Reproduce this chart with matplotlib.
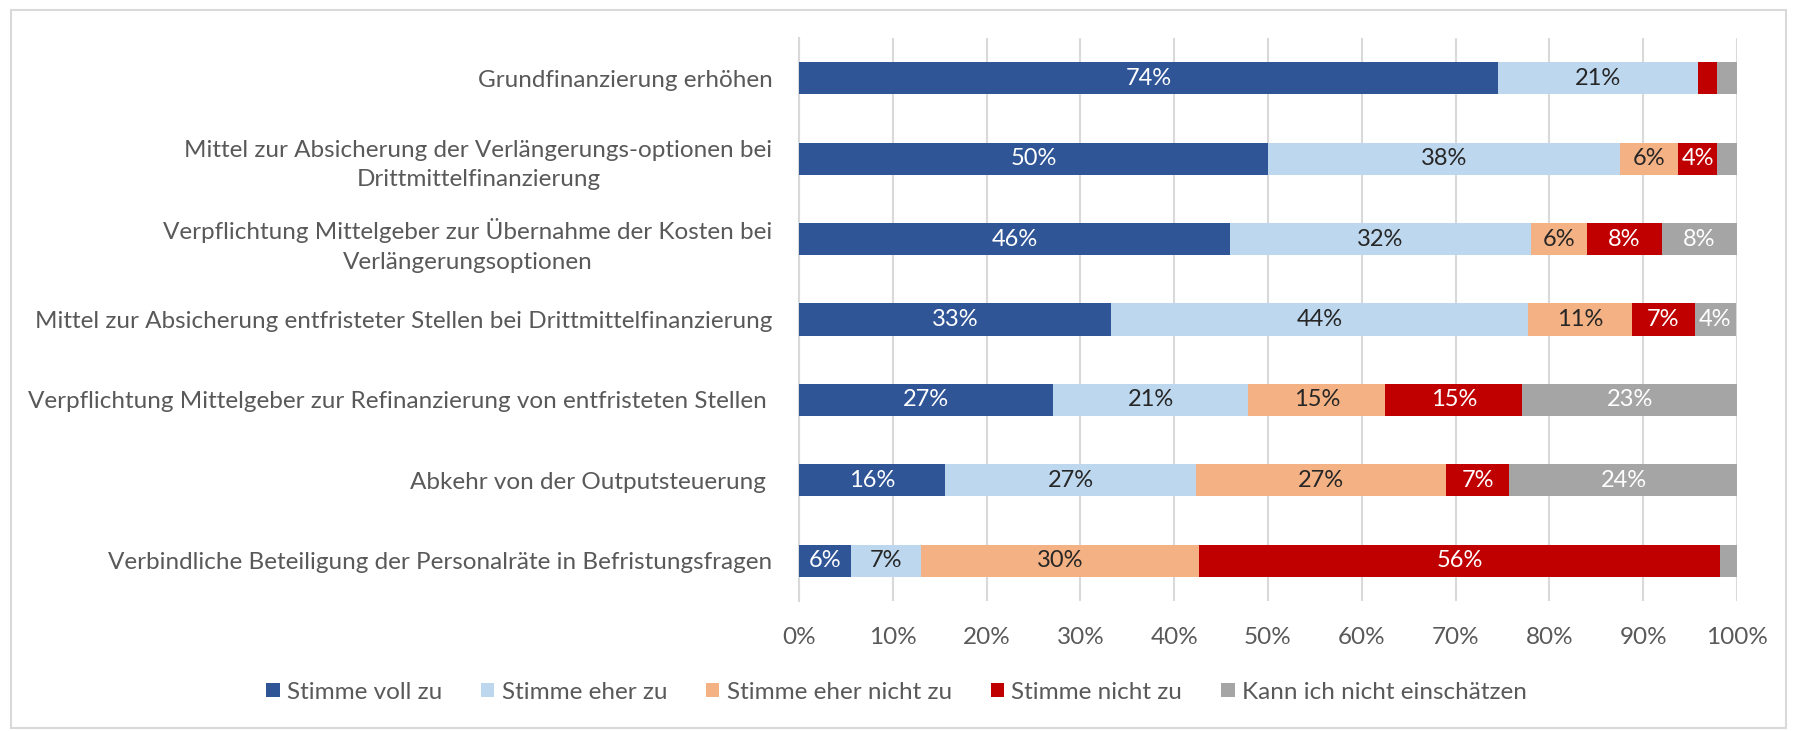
import matplotlib
matplotlib.use('Agg')
import matplotlib.pyplot as plt
import numpy as np
from matplotlib.patches import Rectangle

plt.rcParams['font.family'] = ['Lato', 'DejaVu Sans']

categories = [
    'Grundfinanzierung erhöhen',
    'Mittel zur Absicherung der Verlängerungs-optionen bei\nDrittmittelfinanzierung',
    'Verpflichtung Mittelgeber zur Übernahme der Kosten bei\nVerlängerungsoptionen',
    'Mittel zur Absicherung entfristeter Stellen bei Drittmittelfinanzierung',
    'Verpflichtung Mittelgeber zur Refinanzierung von entfristeten Stellen ',
    'Abkehr von der Outputsteuerung ',
    'Verbindliche Beteiligung der Personalräte in Befristungsfragen',
]

series_names = ['Stimme voll zu', 'Stimme eher zu', 'Stimme eher nicht zu',
                'Stimme nicht zu', 'Kann ich nicht einschätzen']

voll_zu = [74.5, 50.0, 46.0, 33.3, 27.1, 15.6, 5.6]
eher_zu = [21.3, 37.5, 32.0, 44.4, 20.8, 26.7, 7.4]
eher_nicht = [0.0, 6.2, 6.0, 11.1, 14.6, 26.7, 29.6]
nicht_zu = [2.1, 4.2, 8.0, 6.7, 14.6, 6.7, 55.6]
kann_nicht = [2.1, 2.1, 8.0, 4.4, 22.9, 24.4, 1.8]

colors = ['#2F5597', '#BDD7EE', '#F4B183', '#C00000', '#A5A5A5']
label_colors = ['white', '#262626', '#262626', 'white', 'white']

fig = plt.figure(figsize=(17.93, 7.31), dpi=100)
ax = fig.add_axes([0.4456, 0.178, 0.5232, 0.770])

y = np.arange(len(categories))
left = np.zeros(len(categories))
for vals, name, col, lcol in zip([voll_zu, eher_zu, eher_nicht, nicht_zu, kann_nicht],
                                 series_names, colors, label_colors):
    vals = np.array(vals)
    bars = ax.barh(y, vals, left=left, height=0.4, color=col, label=name, zorder=3)
    for b, v in zip(bars, vals):
        if v >= 3.5:
            ax.text(b.get_x() + b.get_width() / 2, b.get_y() + b.get_height() / 2,
                    f'{v:.0f}%', ha='center', va='center', color=lcol,
                    fontsize=17, zorder=4)
    left += vals

ax.set_xlim(0, 100)
ax.set_ylim(len(categories) - 0.5, -0.5)
ax.set_xticks(np.arange(0, 101, 10))
ax.set_xticklabels([f'{t}%' for t in range(0, 101, 10)])
ax.set_yticks(y)
ax.set_yticklabels(categories)
for lab in ax.get_yticklabels():
    lab.set_multialignment('center')
    lab.set_linespacing(1.5)

ax.grid(axis='x', color='#D9D9D9', linewidth=1.5, zorder=0)
for s in ['top', 'right', 'bottom']:
    ax.spines[s].set_visible(False)
ax.spines['left'].set_color('#D9D9D9')
ax.spines['left'].set_linewidth(1.5)
ax.tick_params(axis='both', length=0, labelsize=17.5, labelcolor='#595959')
ax.tick_params(axis='y', pad=19)
ax.tick_params(axis='x', pad=19)

fig.legend(loc='center', bbox_to_anchor=(0.5, 0.053), ncol=5, frameon=False,
           fontsize=17.5, labelcolor='#595959', handlelength=0.55, handleheight=0.55,
           handletextpad=0.3, columnspacing=1.6)

fig.patches.append(Rectangle((0.006, 0.004), 0.99, 0.983, transform=fig.transFigure,
                             fill=False, edgecolor='#D9D9D9', linewidth=1.5))

fig.savefig('out.png', dpi=100)
